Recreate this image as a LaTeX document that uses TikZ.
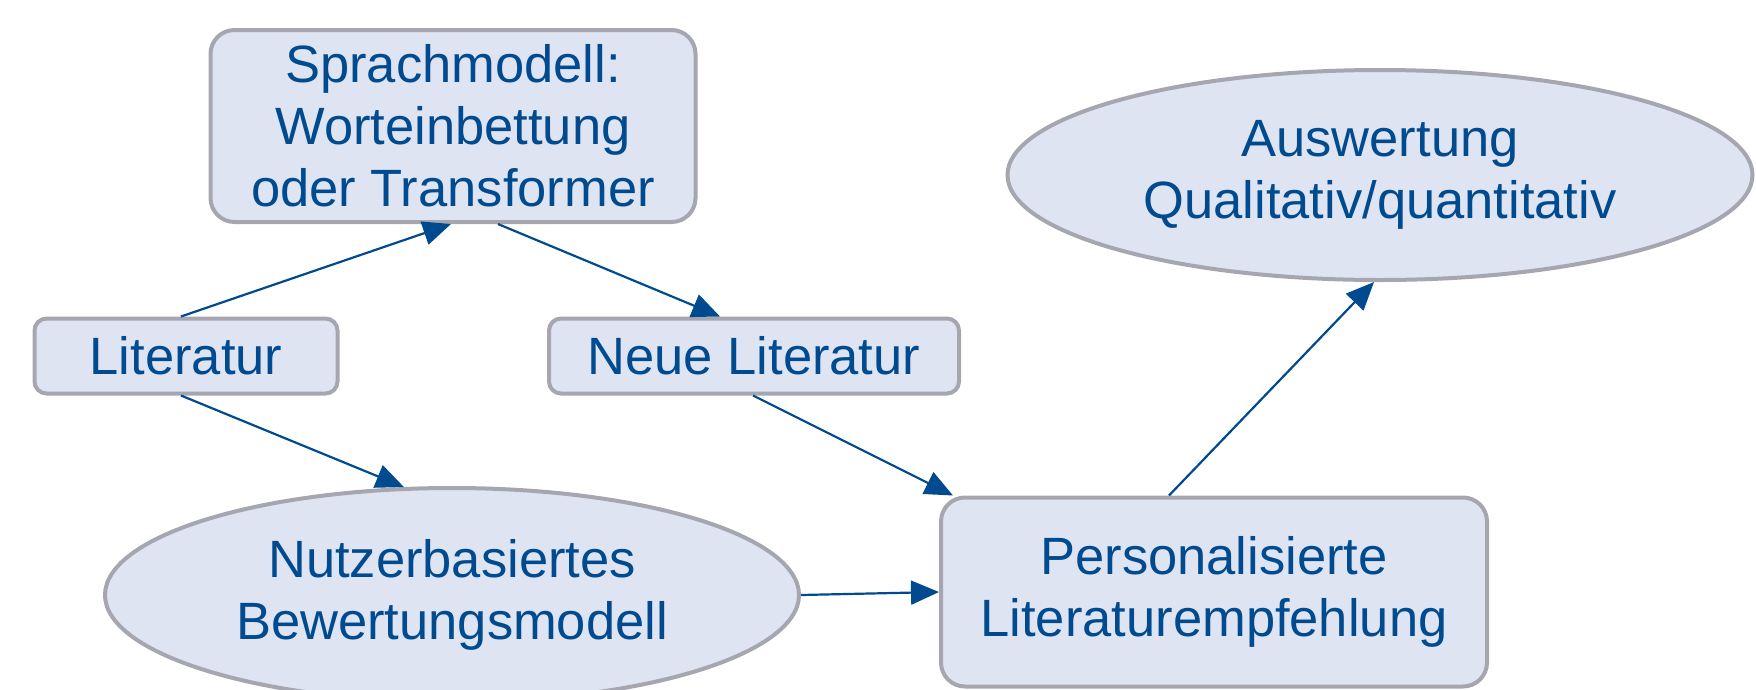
\documentclass[tikz,border=0pt]{standalone}
\usepackage{fontspec}
\setmainfont{Liberation Sans}
\usetikzlibrary{shapes.geometric,arrows.meta,calc}
\definecolor{txtblue}{RGB}{0,74,143}
\definecolor{fillc}{RGB}{223,228,242}
\definecolor{bordc}{RGB}{166,166,176}
\begin{document}
\begin{tikzpicture}[x=1pt,y=-1pt,
  base/.style={draw=bordc,line width=4pt,fill=fillc,text=txtblue,align=center,
    font=\fontsize{52.5}{62}\selectfont,inner sep=0pt},
  box/.style={base,rounded corners=24pt},
  smallbox/.style={base,rounded corners=12pt,minimum height=75pt},
  ell/.style={base,ellipse},
  arr/.style={draw=txtblue,line width=2.2pt,-{Triangle[length=28pt,width=24pt]}}]
\useasboundingbox (0,0) rectangle (1756,689);
\node[box,minimum width=485pt,minimum height=192pt] (sm) at (453,126) {Sprachmodell:\\Worteinbettung\\oder Transformer};
\node[smallbox,minimum width=303pt] (li) at (186,356) {Literatur};
\node[smallbox,minimum width=410pt] (nl) at (754,356) {Neue Literatur};
\node[ell,minimum width=745pt,minimum height=210pt] (au) at (1380,175) {Auswertung\\Qualitativ/quantitativ};
\node[ell,minimum width=694pt,minimum height=214pt] (nu) at (452,595) {Nutzerbasiertes\\Bewertungsmodell};
\node[box,minimum width=546pt,minimum height=189pt] (pe) at (1214,592) {Personalisierte\\Literaturempfehlung};
\draw[arr] ($(li.north)+(-5,0)$) -- ($(sm.south)+(-2,0)$);
\draw[arr] ($(sm.south)+(45,0)$) -- ($(nl.north)+(-34,0)$);
\draw[arr] ($(li.south)+(-5,0)$) -- (nu.114);
\draw[arr] ($(nl.south)+(-1,0)$) -- ($(pe.north west)+(14,0)$);
\draw[arr] ($(pe.north)+(-45,0)$) -- ($(au.south)+(-6,0)$);
\draw[arr] (nu.east) -- (pe.west);
\end{tikzpicture}
\end{document}
